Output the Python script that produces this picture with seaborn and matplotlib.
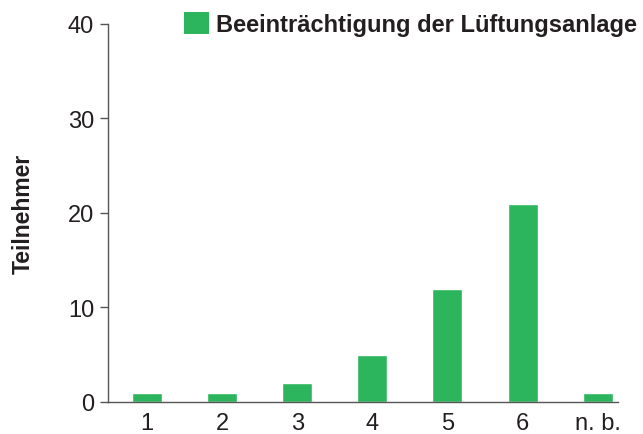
import pandas as pd
import matplotlib.pyplot as plt
import seaborn as sns
from matplotlib.patches import Patch

sns.set_style("white")
plt.rcParams['font.family'] = ['Liberation Sans', 'DejaVu Sans']

# Data
categories = ["1", "2", "3", "4", "5", "6", "n. b."]
teilnehmer = [1, 1, 2, 5, 12, 21, 1]
series_name = "Beeinträchtigung der Lüftungsanlage"
bar_color = "#2db55d"
text_color = "#231f20"

df = pd.DataFrame({"kategorie": categories, "teilnehmer": teilnehmer})

fig = plt.figure(figsize=(6.43, 4.35), dpi=100)
ax = fig.add_axes([0.168, 0.0736, 0.793, 0.869])

sns.barplot(x="kategorie", y="teilnehmer", data=df, color=bar_color,
            saturation=1, width=0.4, ax=ax)

ax.set_ylim(0, 40)
ax.set_xlim(-0.52, 6.27)
ax.set_yticks([0, 10, 20, 30, 40])
ax.set_xlabel("")
ax.set_ylabel("Teilnehmer", fontsize=16.5, fontweight="bold", color=text_color, labelpad=24)

for side in ["top", "right"]:
    ax.spines[side].set_visible(False)
ax.spines["left"].set_color("#555555")
ax.spines["bottom"].set_color("#555555")
ax.spines["left"].set_linewidth(1.0)
ax.spines["bottom"].set_linewidth(1.0)

ax.tick_params(axis="y", length=6, width=1, color="#555555", labelsize=17,
               labelcolor=text_color, pad=4, left=True)
ax.tick_params(axis="x", length=0, labelsize=17, labelcolor=text_color, pad=7)

handle = Patch(facecolor=bar_color, edgecolor="none")
leg = ax.legend([handle], [series_name], loc="upper right", bbox_to_anchor=(1.056, 1.056),
                frameon=False, handlelength=1.05, handleheight=1.05, handletextpad=0.3,
                prop={"size": 17, "weight": "bold"}, borderaxespad=0)
for t in leg.get_texts():
    t.set_color(text_color)

plt.savefig("out.png", dpi=100)
plt.close()
